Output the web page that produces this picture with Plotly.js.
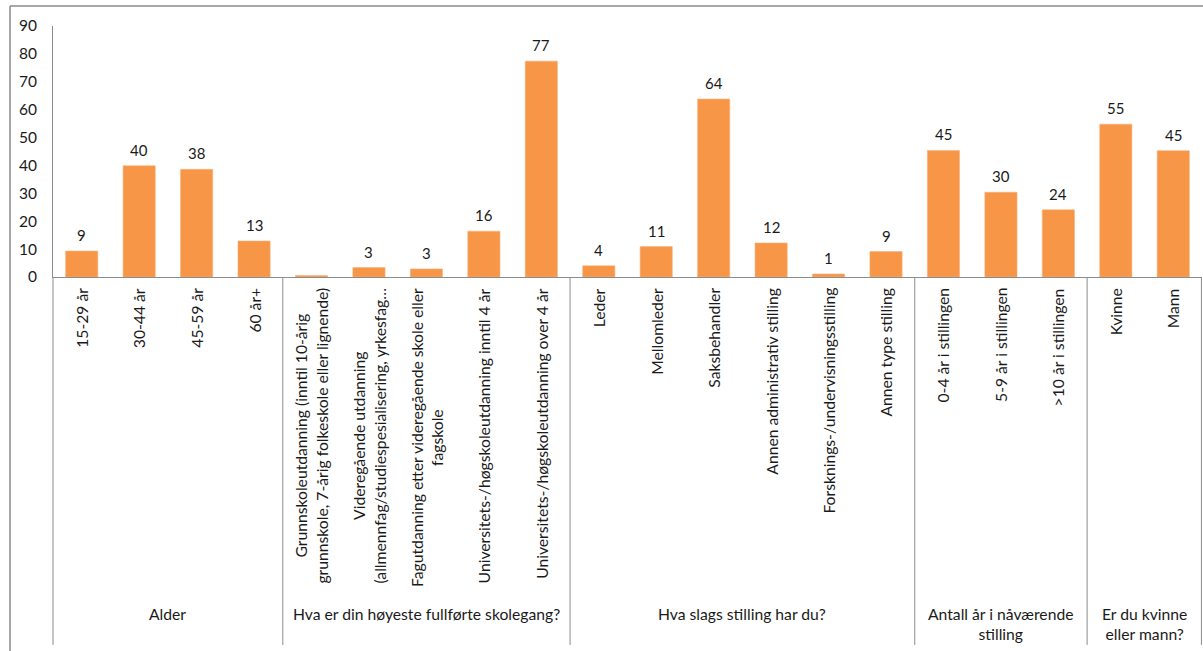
<!DOCTYPE html>
<html>
<head>
<meta charset="utf-8">
<script src="https://cdn.plot.ly/plotly-3.0.1.min.js"></script>
<style>html,body{margin:0;padding:0;background:#fff;overflow:hidden;}#chart{width:1203px;height:651px;}</style>
</head>
<body>
<div id="chart"></div>
<script>
// ---- data ----
var categories = [
  "15-29 år", "30-44 år", "45-59 år", "60 år+",
  "Grunnskoleutdanning (inntil 10-årig<br>grunnskole, 7-årig folkeskole eller lignende)",
  "Videregående utdanning<br>(allmennfag/studiespesialisering, yrkesfag…",
  "Fagutdanning etter videregående skole eller<br>fagskole",
  "Universitets-/høgskoleutdanning inntil 4 år",
  "Universitets-/høgskoleutdanning over 4 år",
  "Leder", "Mellomleder", "Saksbehandler", "Annen administrativ stilling",
  "Forsknings-/undervisningsstilling", "Annen type stilling",
  "0-4 år i stillingen", "5-9 år i stillingen", ">10 år i stillingen",
  "Kvinne", "Mann"
];
var values = [9.3, 39.9, 38.6, 12.9, 0.5, 3.4, 2.9, 16.4, 77.4, 4.0, 10.9, 63.8, 12.2, 1.1, 9.1, 45.4, 30.4, 24.1, 54.8, 45.3];
var valueLabels = ["9", "40", "38", "13", "", "3", "3", "16", "77", "4", "11", "64", "12", "1", "9", "45", "30", "24", "55", "45"];
var groupNames = ["Alder", "Hva er din høyeste fullførte skolegang?", "Hva slags stilling har du?", "Antall år i nåværende<br>stilling", "Er du kvinne<br>eller mann?"];
var groupSizes = [4, 5, 6, 3, 2];
var yTicks = [0, 10, 20, 30, 40, 50, 60, 70, 80, 90];

// ---- layout helpers ----
var FONT = "Lato, 'Open Sans', sans-serif";
var FS = 15.7;
var TXT = "#1a1a1a";
var GRID = "#8c8c8c";
var bottomPaper = -1.466;   // bottom of divider lines

var annotations = [];
// value labels
categories.forEach(function (c, i) {
  if (valueLabels[i] !== "") {
    annotations.push({
      x: c, y: values[i], xref: "x", yref: "y", text: valueLabels[i],
      showarrow: false, yanchor: "bottom", yshift: 5,
      font: {family: FONT, size: 15, color: TXT}
    });
  }
});
// rotated category labels
categories.forEach(function (c) {
  annotations.push({
    x: c, y: -0.036, xref: "x", yref: "paper", text: c,
    showarrow: false, textangle: -90, yanchor: "top", xanchor: "center", align: "center",
    font: {family: FONT, size: FS, color: TXT}
  });
});
// group labels and dividers
var shapes = [];
var start = 0;
groupNames.forEach(function (g, k) {
  var end = start + groupSizes[k] - 1;
  annotations.push({
    x: (start + end) / 2, y: -1.30, xref: "x", yref: "paper", text: g,
    showarrow: false, yanchor: "top", xanchor: "center", align: "center",
    font: {family: FONT, size: FS, color: TXT}
  });
  if (k < groupNames.length - 1) {
    shapes.push({type: "line", xref: "x", yref: "paper", x0: end + 0.5, x1: end + 0.5, y0: 0, y1: bottomPaper,
      line: {color: GRID, width: 1}});
  }
  start = end + 1;
});
// left and right edges of the category axis
shapes.push({type: "line", xref: "paper", yref: "paper", x0: 0, x1: 0, y0: 0, y1: bottomPaper, line: {color: GRID, width: 1}});
shapes.push({type: "line", xref: "paper", yref: "paper", x0: 0.9995, x1: 0.9995, y0: 0, y1: bottomPaper, line: {color: GRID, width: 1}});
// outer chart frame (top and left edges visible)
shapes.push({type: "line", xref: "paper", yref: "paper", x0: -0.0374, x1: 1.05, y0: 1.08, y1: 1.08,
  line: {color: "#8a8a8a", width: 1.5}, layer: "below"});
shapes.push({type: "line", xref: "paper", yref: "paper", x0: -0.0374, x1: -0.0374, y0: 1.08, y1: -1.7,
  line: {color: "#8a8a8a", width: 1.5}, layer: "below"});

var trace = {
  type: "bar",
  x: categories,
  y: values,
  marker: {color: "#F79646", line: {color: "#FAB07A", width: 0.6}},
  hoverinfo: "x+y"
};

var layout = {
  width: 1203, height: 651,
  margin: {l: 53, r: 1, t: 26, b: 374, pad: 0},
  paper_bgcolor: "#ffffff", plot_bgcolor: "#ffffff",
  bargap: 0.44,
  showlegend: false,
  font: {family: FONT, size: 14, color: TXT},
  xaxis: {
    type: "category", showticklabels: false, showgrid: false, zeroline: false,
    showline: true, linecolor: GRID, linewidth: 1, ticks: "", fixedrange: true
  },
  yaxis: {
    range: [0, 90], tickvals: yTicks, ticktext: yTicks.map(String),
    showgrid: false, zeroline: false, showline: true, linecolor: GRID, linewidth: 1,
    ticks: "", ticklabelstandoff: 12, tickfont: {family: FONT, size: 15.5, color: TXT}, fixedrange: true
  },
  annotations: annotations,
  shapes: shapes
};

Plotly.newPlot("chart", [trace], layout, {displayModeBar: false, staticPlot: true});
</script>
</body>
</html>
